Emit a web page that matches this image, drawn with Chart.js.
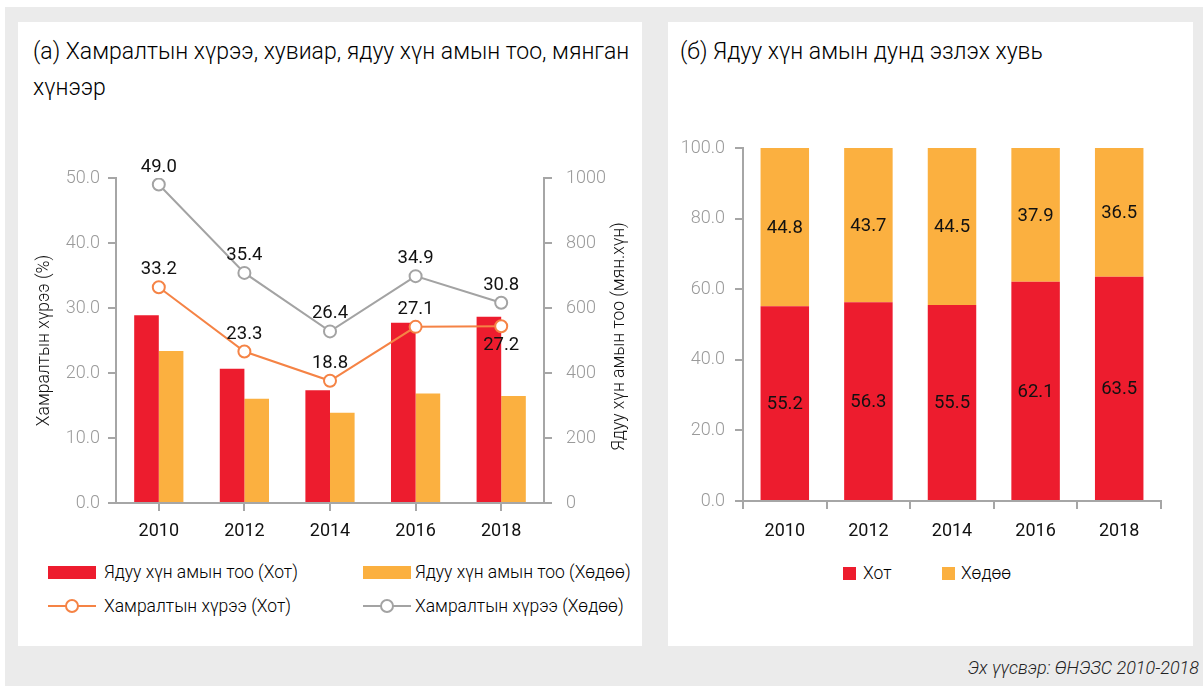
<!DOCTYPE html>
<html><head><meta charset="utf-8">
<script src="https://cdn.jsdelivr.net/npm/chart.js@4.4.1/dist/chart.umd.min.js"></script>
<style>
html,body{margin:0;padding:0;background:#fff;}
body{width:1203px;height:686px;position:relative;overflow:hidden;font-family:Roboto,"DejaVu Sans Condensed",sans-serif;font-weight:300;color:#000;}
#bg{position:absolute;left:5px;top:7px;width:1198px;height:679px;background:#ebebeb;}
.panel{position:absolute;top:22px;height:624px;background:#fff;}
#pa{left:18px;width:624px;}
#pb{left:668px;width:525px;}
.title{position:absolute;left:15px;top:12px;font-size:23px;line-height:36px;white-space:nowrap;color:#000;}
#pb .title{left:12px;}
canvas{position:absolute;left:0;}
.lg{position:absolute;font-size:17.5px;line-height:20px;white-space:nowrap;color:#000;}
.box{position:absolute;}
.src{position:absolute;right:4px;top:657px;font-size:18px;font-style:italic;color:#222;white-space:nowrap;}
</style></head>
<body>
<div id="bg"></div>
<div class="panel" id="pa">
  <div class="title">(а) Хамралтын хүрээ, хувиар, ядуу хүн амын тоо, мянган<br>хүнээр</div>
  <canvas id="c1" width="624" height="430" style="top:110px"></canvas>
  <div id="lg1"></div>
</div>
<div class="panel" id="pb">
  <div class="title">(б) Ядуу хүн амын дунд эзлэх хувь</div>
  <canvas id="c2" width="525" height="425" style="top:105px"></canvas>
  <div id="lg2"></div>
</div>
<div class="src">Эх үүсвэр: ӨНЭЗС 2010-2018</div>
<script>
// ---- data ----
const years = ['2010', '2012', '2014', '2016', '2018'];
const poorUrban = [578, 413, 347, 555, 573];      // Ядуу хүн амын тоо (Хот), мян.хүн
const poorRural = [468, 321, 278, 337, 329];      // Ядуу хүн амын тоо (Хөдөө), мян.хүн
const rateUrban = [33.2, 23.3, 18.8, 27.1, 27.2]; // Хамралтын хүрээ (Хот), %
const rateRural = [49.0, 35.4, 26.4, 34.9, 30.8]; // Хамралтын хүрээ (Хөдөө), %
const shareUrban = [55.2, 56.3, 55.5, 62.1, 63.5]; // Хот, %
const shareRural = [44.8, 43.7, 44.5, 37.9, 36.5]; // Хөдөө, %
const rateTicks = [0, 10, 20, 30, 40, 50];
const poorTicks = [0, 200, 400, 600, 800, 1000];
const shareTicks = [0, 20, 40, 60, 80, 100];

// ---- styles ----
const FF = 'Roboto,"DejaVu Sans Condensed",sans-serif';
const RED = '#ED1C2E', ORANGE = '#FBB040', LORANGE = '#F58345', LGRAY = '#A3A3A3';
const AX = '#A6A6A6', TICK = '#9A9A9A', TXT = '#111';
Chart.defaults.font.family = FF;
Chart.defaults.font.weight = 300;
Chart.defaults.color = TXT;

const valueLabels = {
  id: 'valueLabels',
  afterDatasetsDraw(chart, args, opts) {
    const ctx = chart.ctx;
    ctx.save();
    ctx.font = opts.weight + ' ' + opts.size + 'px ' + FF;
    ctx.fillStyle = TXT;
    ctx.textAlign = 'center';
    chart.data.datasets.forEach((ds, i) => {
      const meta = chart.getDatasetMeta(i);
      if (!ds.showValues) return;
      meta.data.forEach((el, j) => {
        const txt = ds.data[j].toFixed(1);
        if (meta.type === 'line') {
          const below = ds.labelBelow && ds.labelBelow[j];
          ctx.textBaseline = 'alphabetic';
          ctx.fillText(txt, el.x, below ? el.y + 24 : el.y - 13);
        } else {
          ctx.textBaseline = 'middle';
          ctx.fillText(txt, el.x, (el.y + el.base) / 2 + 1);
        }
      });
    });
    ctx.restore();
  }
};

const rightTitle = {
  id: 'rightTitle',
  afterDraw(chart, args, opts) {
    if (!opts.text) return;
    const ctx = chart.ctx, a = chart.chartArea;
    ctx.save();
    ctx.font = '300 ' + opts.size + 'px ' + FF;
    ctx.fillStyle = TXT;
    ctx.textAlign = 'center';
    ctx.textBaseline = 'middle';
    ctx.translate(opts.x, (a.top + a.bottom) / 2 + (opts.dy || 0));
    ctx.rotate(-Math.PI / 2);
    ctx.fillText(opts.text, 0, 0);
    ctx.restore();
  }
};

const axisGrid = { drawOnChartArea: false, tickLength: 8, color: AX, lineWidth: 2 };
const axisBorder = { color: AX, width: 2 };

new Chart(document.getElementById('c1'), {
  data: {
    labels: years,
    datasets: [
      { type: 'line', label: 'Хамралтын хүрээ (Хөдөө)', data: rateRural, yAxisID: 'y',
        borderColor: LGRAY, borderWidth: 2, pointRadius: 6, pointBorderWidth: 2,
        pointBackgroundColor: '#fff', pointBorderColor: LGRAY, order: 0, showValues: true },
      { type: 'line', label: 'Хамралтын хүрээ (Хот)', data: rateUrban, yAxisID: 'y',
        borderColor: LORANGE, borderWidth: 2, pointRadius: 6, pointBorderWidth: 2,
        pointBackgroundColor: '#fff', pointBorderColor: LORANGE, order: 0, showValues: true,
        labelBelow: [false, false, false, false, true] },
      { type: 'bar', label: 'Ядуу хүн амын тоо (Хот)', data: poorUrban, yAxisID: 'y1',
        backgroundColor: RED, categoryPercentage: 0.575, barPercentage: 1, order: 1 },
      { type: 'bar', label: 'Ядуу хүн амын тоо (Хөдөө)', data: poorRural, yAxisID: 'y1',
        backgroundColor: ORANGE, categoryPercentage: 0.575, barPercentage: 1, order: 1 }
    ]
  },
  options: {
    responsive: false, animation: false,
    layout: { padding: { left: 0, right: 0, top: 46, bottom: 0 } },
    plugins: {
      legend: { display: false }, tooltip: { enabled: false },
      valueLabels: { size: 18.5, weight: 400 },
      rightTitle: { text: 'Ядуу хүн амын тоо (мян.хүн)', size: 17.5, x: 602, dy: -4 }
    },
    scales: {
      x: { grid: Object.assign({ offset: false }, axisGrid), border: axisBorder,
           ticks: { color: TXT, font: { size: 18, weight: 400 }, padding: 10 },
           afterFit: s => { s.height = 59; } },
      y: { position: 'left', min: 0, max: 50,
           afterBuildTicks: s => { s.ticks = rateTicks.map(v => ({ value: v })); },
           ticks: { color: TICK, font: { size: 18 }, padding: 8, callback: v => Number(v).toFixed(1) },
           grid: axisGrid, border: axisBorder,
           title: { display: true, text: 'Хамралтын хүрээ (%)', color: TXT, font: { size: 17.5 }, padding: { top: 16, bottom: 0 } },
           afterFit: s => { s.width = 98; } },
      y1: { position: 'right', min: 0, max: 1000,
           afterBuildTicks: s => { s.ticks = poorTicks.map(v => ({ value: v })); },
           ticks: { color: TICK, font: { size: 18 }, padding: 14, callback: v => String(v) },
           grid: axisGrid, border: axisBorder,
           afterFit: s => { s.width = 98; } }
    }
  },
  plugins: [valueLabels, rightTitle]
});

new Chart(document.getElementById('c2'), {
  type: 'bar',
  data: {
    labels: years,
    datasets: [
      { label: 'Хот', data: shareUrban, backgroundColor: RED, categoryPercentage: 0.58, barPercentage: 1, showValues: true },
      { label: 'Хөдөө', data: shareRural, backgroundColor: ORANGE, categoryPercentage: 0.58, barPercentage: 1, showValues: true }
    ]
  },
  options: {
    responsive: false, animation: false,
    layout: { padding: { left: 0, right: 32, top: 21, bottom: 0 } },
    plugins: { legend: { display: false }, tooltip: { enabled: false }, valueLabels: { size: 18.5, weight: 400 }, rightTitle: {} },
    scales: {
      x: { stacked: true, grid: axisGrid, border: axisBorder,
           ticks: { color: TXT, font: { size: 18, weight: 400 }, padding: 12 },
           afterFit: s => { s.height = 51; } },
      y: { stacked: true, min: 0, max: 100,
           afterBuildTicks: s => { s.ticks = shareTicks.map(v => ({ value: v })); },
           ticks: { color: TICK, font: { size: 18 }, padding: 10, callback: v => Number(v).toFixed(1) },
           grid: axisGrid, border: axisBorder,
           afterFit: s => { s.width = 75; } }
    }
  },
  plugins: [valueLabels, rightTitle]
});

// ---- HTML legends ----
function addLegend(host, items) {
  const el = document.getElementById(host);
  items.forEach(it => {
    const d = document.createElement('div');
    d.className = 'box';
    d.style.left = it.x + 'px'; d.style.top = (it.y - it.h / 2) + 'px';
    d.style.width = it.w + 'px'; d.style.height = it.h + 'px';
    if (it.line) {
      d.style.height = '2px'; d.style.top = (it.y - 1) + 'px'; d.style.background = it.color;
      const c = document.createElement('div');
      c.style.cssText = 'position:absolute;left:' + (it.w / 2 - 7) + 'px;top:-6px;width:10px;height:10px;border:2px solid ' + it.color + ';border-radius:50%;background:#fff;';
      d.appendChild(c);
    } else {
      d.style.background = it.color;
    }
    el.appendChild(d);
    const t = document.createElement('div');
    t.className = 'lg';
    t.textContent = it.text;
    t.style.left = it.tx + 'px'; t.style.top = (it.y - 10) + 'px';
    el.appendChild(t);
  });
}
// left panel (panel-relative coords; panel at 18,22)
addLegend('lg1', [
  { text: 'Ядуу хүн амын тоо (Хот)', color: RED, x: 30, y: 550, w: 48, h: 13, tx: 86 },
  { text: 'Ядуу хүн амын тоо (Хөдөө)', color: ORANGE, x: 345, y: 550, w: 48, h: 13, tx: 397 },
  { text: 'Хамралтын хүрээ (Хот)', color: LORANGE, x: 30, y: 584, w: 48, h: 13, tx: 86, line: true },
  { text: 'Хамралтын хүрээ (Хөдөө)', color: LGRAY, x: 345, y: 584, w: 48, h: 13, tx: 397, line: true }
]);
// right panel (panel at 668,22)
addLegend('lg2', [
  { text: 'Хот', color: RED, x: 175, y: 551, w: 13, h: 13, tx: 195 },
  { text: 'Хөдөө', color: ORANGE, x: 274, y: 551, w: 13, h: 13, tx: 293 }
]);
</script>
</body></html>
